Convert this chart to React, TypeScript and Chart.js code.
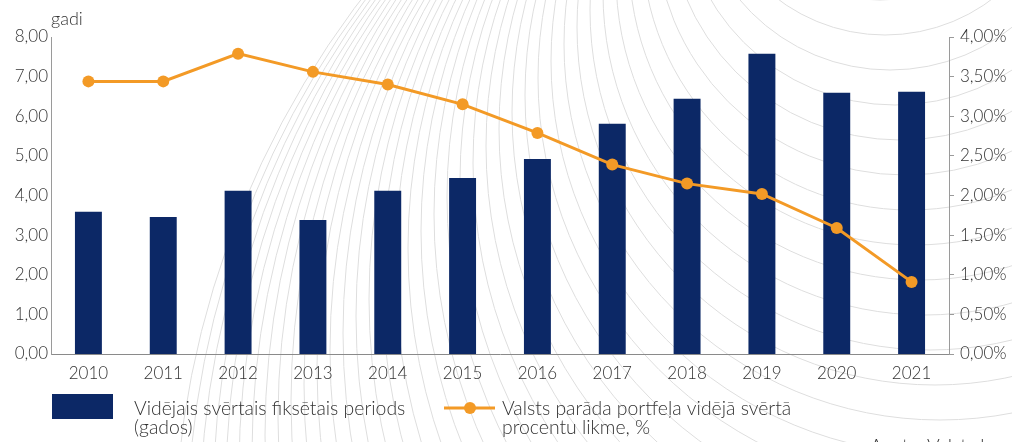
import React, { useEffect, useRef } from "react";
import { Chart, registerables } from "chart.js";

Chart.register(...registerables);

const years = ["2010", "2011", "2012", "2013", "2014", "2015", "2016", "2017", "2018", "2019", "2020", "2021"];
const fixedPeriodYears = [3.59, 3.46, 4.12, 3.38, 4.12, 4.44, 4.92, 5.81, 6.44, 7.58, 6.59, 6.62];
const avgRatePct = [3.44, 3.44, 3.79, 3.56, 3.40, 3.15, 2.79, 2.39, 2.15, 2.02, 1.59, 0.91];

const barLabel = ["Vidējais svērtais fiksētais periods", "(gados)"];
const lineLabel = ["Valsts parāda portfeļa vidējā svērtā", "procentu likme, %"];
const leftUnit = "gadi";
const sourceText = "Avots: Valsts kase";

const NAVY = "#0c2866";
const ORANGE = "#f39a26";
const TEXT = "#333333";
const FONT = "Lato, 'Open Sans', sans-serif";

const decoPlugin = {
  id: "deco",
  beforeDraw(chart: any) {
    const ctx = chart.ctx;
    ctx.save();
    ctx.strokeStyle = "#dedede";
    ctx.lineWidth = 1;
    for (let i = 0; i <= 42; i++) {
      const r = 160 + 18 * i;
      const cy = -160 + 17 * i;
      const cx = 880 + 5 * i;
      ctx.beginPath();
      ctx.arc(cx, cy, r, 0, Math.PI * 2);
      ctx.stroke();
    }
    ctx.restore();
  },
  afterDraw(chart: any) {
    const ctx = chart.ctx;
    ctx.save();
    ctx.fillStyle = TEXT;
    ctx.font = `300 18px ${FONT}`;
    ctx.textBaseline = "alphabetic";
    ctx.textAlign = "left";
    ctx.fillText(leftUnit, 51, 25);
    // legend 1
    ctx.fillStyle = NAVY;
    ctx.fillRect(52, 394, 61, 25);
    ctx.fillStyle = TEXT;
    ctx.font = `300 19.4px ${FONT}`;
    ctx.fillText(barLabel[0], 134, 415);
    ctx.fillText(barLabel[1], 134, 434);
    // legend 2
    ctx.strokeStyle = ORANGE;
    ctx.lineWidth = 3;
    ctx.beginPath();
    ctx.moveTo(444, 408);
    ctx.lineTo(495, 408);
    ctx.stroke();
    ctx.fillStyle = ORANGE;
    ctx.beginPath();
    ctx.arc(470, 408, 6, 0, Math.PI * 2);
    ctx.fill();
    ctx.fillStyle = TEXT;
    ctx.fillText(lineLabel[0], 502, 415);
    ctx.fillText(lineLabel[1], 502, 434);
    ctx.fillText(sourceText, 870, 453);
    ctx.restore();
  },
};

export default function App() {
  const ref = useRef<HTMLCanvasElement | null>(null);
  useEffect(() => {
    if (!ref.current) return;
    const tickFont = { family: FONT, size: 17, weight: 300 as any };
    const chart = new Chart(ref.current, {
      type: "bar",
      data: {
        labels: years,
        datasets: [
          {
            type: "line",
            label: lineLabel.join(" "),
            data: avgRatePct,
            yAxisID: "y1",
            borderColor: ORANGE,
            backgroundColor: ORANGE,
            borderWidth: 3,
            pointRadius: 6,
            pointBackgroundColor: ORANGE,
            pointBorderWidth: 0,
            tension: 0,
            order: 0,
          } as any,
          {
            type: "bar",
            label: barLabel.join(" "),
            data: fixedPeriodYears,
            yAxisID: "y",
            backgroundColor: NAVY,
            barPercentage: 0.36,
            categoryPercentage: 1,
            order: 1,
          },
        ],
      },
      options: {
        responsive: false,
        animation: false,
        layout: { padding: { top: 37, bottom: 0, left: 0, right: 0 } },
        plugins: { legend: { display: false }, tooltip: { enabled: false } },
        scales: {
          x: {
            grid: { display: false, drawTicks: false },
            border: { color: "#8a8a8a", width: 1 },
            ticks: { color: TEXT, font: tickFont, padding: 9, maxRotation: 0 },
            afterFit(scale: any) {
              scale.height = 88;
            },
          },
          y: {
            position: "left",
            min: 0,
            max: 8,
            grid: { display: false, drawTicks: false },
            border: { color: "#9a9a9a", width: 1 },
            ticks: {
              stepSize: 1,
              color: TEXT,
              font: tickFont,
              padding: 3,
              callback: (v: any) => Number(v).toFixed(2).replace(".", ","),
            },
            afterFit(scale: any) {
              scale.width = 51;
            },
          },
          y1: {
            position: "right",
            min: 0,
            max: 4,
            grid: { display: true, drawOnChartArea: false, drawTicks: true, tickLength: 5, color: "#9a9a9a" },
            border: { color: "#9a9a9a", width: 1 },
            ticks: {
              stepSize: 0.5,
              color: TEXT,
              font: tickFont,
              padding: 6,
              callback: (v: any) => Number(v).toFixed(2).replace(".", ",") + "%",
            },
            afterFit(scale: any) {
              scale.width = 63;
            },
          },
        },
      },
      plugins: [decoPlugin],
    });
    return () => chart.destroy();
  }, []);
  return (
    <div style={{ position: "absolute", left: 0, top: 0, width: 1012, height: 442, overflow: "hidden", background: "#fff" }}>
      <canvas ref={ref} width={1012} height={442} />
    </div>
  );
}
